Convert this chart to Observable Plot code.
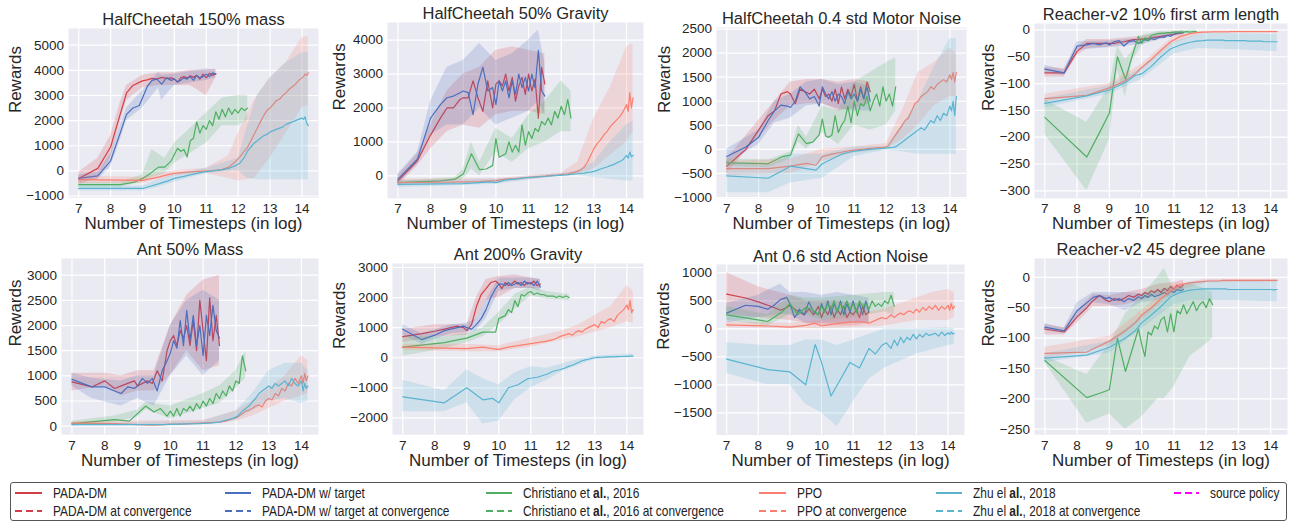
<!DOCTYPE html>
<html><head><meta charset="utf-8">
<script src="https://cdn.jsdelivr.net/npm/d3@7"></script>
<script src="https://cdn.jsdelivr.net/npm/@observablehq/plot@0.6"></script>
<style>
body{margin:0;background:#fff;width:1291px;height:522px;position:relative;overflow:hidden;font-family:"Liberation Sans",Arial,sans-serif;}
.panel{position:absolute;}
.panel svg{overflow:visible;}
#legend{position:absolute;left:10px;top:482px;width:1275px;height:37px;border:1px solid #555;border-radius:3px;background:#fff;}
.li{position:absolute;display:flex;align-items:center;font-family:"Liberation Sans",Arial,sans-serif;font-size:14.5px;color:#222;white-space:nowrap;height:16px;}
.li span{display:inline-block;transform:scaleX(0.82);transform-origin:left center;}
</style></head><body>
<div id="root"></div>
<div id="legend"></div>
<script>
// ---------- x grids (log timesteps) ----------
const gP = [7,7.6,8,8.3,8.5,8.7,8.9,9,9.15,9.3,9.45,9.6,9.75,9.9,10,10.1,10.2,10.3,10.4,10.5,10.6,10.7,10.8,10.9,11,11.1,11.2,11.3];
const gP5 = [7,7.6,8,8.3,8.5,8.7,8.9,9,9.15,9.3,9.45,9.6,9.75,9.9,10,10.1,10.2,10.3,10.4,10.5,10.6,10.7,10.8,10.9,11,11.1,11.2,11.3,11.4,11.5];
const gC = [7,8.3,8.75,9,9.25,9.5,9.7,9.9,10,10.1,10.2,10.3,10.4,10.5,10.6,10.7,10.8,10.9,11,11.1,11.2,11.3,11.4,11.5,11.6,11.7,11.8,11.9,12,12.1,12.2,12.3];
const gL = [7,8.3,9,9.5,9.8,10,10.3,10.6,10.9,11.2,11.5,11.7,11.9,12.05,12.2,12.3,12.4,12.5,12.6,12.7,12.8,12.9,13,13.1,13.2,13.3,13.4,13.5,13.6,13.7,13.8,13.9,14,14.05,14.1,14.15,14.2];
const xTicks = [7,8,9,10,11,12,13,14];

// ---------- Panel 1: HalfCheetah 150% mass ----------
const p1_pada = [-300,100,950,2250,3100,3400,3520,3580,3620,3680,3650,3720,3680,3700,3650,3520,3700,3750,3700,3780,3720,3800,3650,3850,3700,3880,3800,3870];
const p1_pada_band = [[7,-550,-50],[7.6,-300,500],[8,500,1400],[8.3,1900,2700],[8.5,2800,3400],[9,3300,3800],[9.5,3400,3900],[10,3400,3900],[10.5,3400,4000],[11,3000,4000],[11.3,3700,4050]];
const p1_tgt = [-300,-200,400,1500,2250,2500,2600,2900,3350,3600,3650,3450,3700,3600,3650,3550,3600,3700,3650,3750,3600,3800,3700,3750,3850,3750,3900,3850];
const p1_tgt_band = [[7,-450,-150],[7.6,-350,-50],[8,150,700],[8.3,1200,1800],[8.5,2000,2500],[9,2500,3200],[9.5,3300,3900],[9.6,2800,3800],[10,3400,3850],[10.5,3500,3950],[11,3600,4050],[11.3,3700,4000]];
const p1_chr = [-550,-550,-450,-300,-100,150,150,400,650,900,780,850,550,1200,1300,1950,1500,1800,1650,2000,1800,2350,2050,2450,2150,2500,2250,2450,2300,2500,2400,2500];
const p1_chr_band = [[7,-650,-450],[8.3,-650,-450],[9,-450,-150],[9.3,-250,850],[9.7,-100,500],[10,300,1100],[10.5,700,1700],[11,1100,2300],[11.5,1800,2900],[12,1800,3000],[12.3,2000,3000]];
const p1_ppo = [-350,-370,-380,-250,-150,-100,-60,-30,-10,10,60,150,350,550,800,950,1200,1450,1700,1950,2200,2400,2500,2650,2800,2850,3000,3100,3250,3350,3450,3600,3700,3750,3850,3800,3900];
const p1_ppo_band = [[7,-500,-200],[9,-500,-250],[10,-200,0],[11,-100,100],[11.7,-300,600],[12,-400,1500],[12.5,-300,2800],[13,500,3700],[13.5,1500,4300],[14,2500,5300],[14.2,2600,5350]];
const p1_zhu = [-700,-700,-700,-520,-400,-300,-220,-130,-50,0,40,100,200,300,550,800,950,1100,1200,1300,1400,1450,1550,1600,1650,1700,1750,1850,1900,1950,2000,2050,2100,2050,2150,1900,1800];
const p1_zhu_band = [[7,-800,-600],[9,-800,-600],[9.5,-650,-350],[10,-450,-150],[11,-100,100],[12,0,500],[12.3,-300,1800],[12.6,-350,3000],[13,-350,3700],[13.5,-350,4300],[14,-350,4700],[14.2,-350,4700]];

// ---------- Panel 2: HalfCheetah 50% Gravity ----------
const p2_pada = [-150,450,1200,1700,2000,2000,2250,2300,2300,2800,2300,1900,2800,2000,2700,2800,2650,3000,2500,2900,2200,2650,2900,2400,3000,2500,2850,1700,3200,2700];
const p2_pada_band = [[7,-300,0],[7.6,300,650],[8,800,1500],[8.5,1300,2500],[9,1500,3000],[9.5,1400,3200],[10,1800,3700],[10.5,1900,3800],[11,1900,3700],[11.5,1800,3600]];
const p2_tgt = [-100,500,1700,2100,2300,2350,2450,2500,2450,1800,2700,3200,2500,2600,2100,2800,2500,2800,2300,2800,2400,3000,2600,2900,2500,3000,2600,3700,2500,2350];
const p2_tgt_band = [[7,-250,50],[7.6,350,700],[8,1200,2200],[8.5,1500,3200],[9,1500,3400],[9.5,2000,3900],[10,1500,3400],[10.5,1700,3600],[11,1900,4000],[11.3,2200,4300],[11.5,1800,3300]];
const p2_chr = [-200,-150,-100,50,650,180,200,300,1100,550,600,650,1000,700,900,700,1500,900,1300,1100,1400,1300,1600,1500,1700,1500,1900,1700,2050,1800,2250,1700];
const p2_chr_band = [[7,-250,-150],[8.75,-150,-50],[9,-100,200],[9.25,200,1000],[9.5,0,400],[10,700,1400],[10.5,400,1100],[11,800,1800],[11.5,1000,2200],[12,1300,2800],[12.3,1300,2500]];
const p2_ppo = [-200,-190,-180,-170,-150,-140,-100,-80,-50,-30,-10,10,20,40,60,80,100,130,180,250,400,600,800,950,1050,1200,1300,1450,1550,1650,1750,1900,2100,1900,2450,2000,2300];
const p2_ppo_band = [[7,-300,-100],[10,-200,-80],[12,-20,80],[12.5,50,400],[13,200,1700],[13.5,600,2600],[14,1000,3800],[14.2,1300,3900]];
const p2_zhu = [-250,-240,-230,-200,-180,-200,-120,-100,-60,-40,-20,0,10,20,30,40,50,60,70,80,100,110,130,160,200,230,260,300,330,380,420,480,600,520,700,560,600];
const p2_zhu_band = [[7,-350,-150],[10,-250,-100],[12,0,60],[12.5,0,150],[13,-50,400],[13.5,-100,1000],[14,-150,1500],[14.2,-150,1600]];

// ---------- Panel 3: HalfCheetah 0.4 std Motor Noise ----------
const p3_pada = [-350,0,400,700,800,1150,1200,1150,950,1250,1200,1150,1250,1050,1250,1100,1150,1000,1250,950,1300,1050,1250,1100,1350,1000,1300,1050,1400,1200];
const p3_pada_band = [[7,-500,-200],[8,250,600],[8.5,600,1000],[9,900,1400],[9.5,950,1450],[10,950,1450],[10.5,800,1400],[11,850,1450],[11.5,950,1400]];
const p3_tgt = [-150,50,250,600,800,920,900,870,1000,1300,1200,1050,1100,900,1300,1150,1050,1200,1000,1150,1100,950,1200,1050,1150,1000,1250,1050,1300,1000];
const p3_tgt_band = [[7,-300,0],[8,100,400],[8.5,550,1000],[9,650,1150],[9.5,900,1400],[10,950,1450],[10.5,850,1350],[11,800,1400],[11.5,800,1300]];
const p3_chr = [-280,-300,-150,-120,320,120,150,300,630,280,250,300,700,350,500,600,900,550,1000,700,950,900,1100,800,1000,1150,900,1300,1000,1150,900,1300];
const p3_chr_band = [[7,-350,-200],[8.3,-380,-220],[9,-200,-50],[9.25,150,500],[9.5,0,250],[10,350,900],[10.5,100,800],[11,500,1400],[11.5,400,1600],[12,500,1800],[12.3,800,1900]];
const p3_ppo = [-400,-400,-350,-290,-330,-150,-100,-60,-20,0,20,30,40,60,200,300,400,500,600,650,800,950,1000,1100,1150,1200,1300,1250,1350,1400,1450,1400,1550,1450,1600,1400,1600];
const p3_ppo_band = [[7,-550,-250],[9,-500,-200],[10,-250,0],[11,-80,50],[12,0,120],[12.5,200,800],[13,500,1600],[13.5,900,1800],[14,1100,2100],[14.2,1100,2000]];
const p3_zhu = [-550,-600,-350,-400,-430,-300,-200,-100,-50,-20,0,10,20,30,40,50,100,150,200,250,300,350,400,450,400,500,600,550,700,600,750,700,900,800,1000,700,1100];
const p3_zhu_band = [[7,-900,-250],[8.3,-900,-350],[9,-700,-100],[10,-600,-100],[11,-150,50],[12,-20,60],[12.5,-50,500],[13,-100,1000],[13.5,-100,1700],[14,-100,2300],[14.2,-100,2300]];

// ---------- Panel 4: Reacher-v2 10% first arm length ----------
const p4_pada = [-80,-80,-40,-25,-25,-25,-25,-25,-25,-23,-22,-20,-18,-18,-17,-17,-16,-15,-14,-13,-12,-11,-10,-9,-8,-7,-6,-5];
const p4_pada_band = [[7,-88,-70],[7.6,-88,-72],[8,-48,-32],[8.3,-35,-18],[9,-32,-18],[10,-22,-12],[11,-12,-4],[11.3,-9,-2]];
const p4_tgt = [-73,-80,-30,-28,-25,-28,-24,-28,-22,-20,-30,-22,-20,-25,-22,-18,-20,-16,-18,-15,-13,-14,-10,-12,-8,-6,-5,-5];
const p4_tgt_band = [[7,-80,-66],[7.6,-85,-75],[8,-38,-22],[9,-33,-20],[10,-27,-16],[11,-12,-4],[11.3,-8,-2]];
const p4_chr = [-163,-237,-185,-155,-50,-92,-50,-12,-25,-15,-20,-10,-8,-7,-6,-6,-5,-5,-4,-4,-4,-4,-3,-4,-3,-3];
const p4_chr_band = [[7,-195,-130],[8.3,-300,-172],[9,-205,-105],[9.25,-75,-30],[9.5,-125,-55],[9.7,-60,-40],[10,-30,-10],[10.5,-10,-3],[11.7,-6,0]];
const p4_ppo = [-128,-122,-108,-95,-82,-70,-55,-38,-22,-12,-7,-5,-4,-4,-3.5,-3.5,-3.5,-3.5,-3.5,-3.5,-3,-3,-3,-3,-3,-3,-3,-3,-3,-3,-3,-3,-3,-3,-3,-3,-3];
const p4_ppo_band = [[7,-135,-120],[9,-115,-100],[10,-76,-64],[11,-25,-12],[12,-5,-2],[14.2,-5,-2]];
const p4_zhu = [-137,-123,-112,-98,-85,-82,-68,-50,-35,-28,-23,-21,-20,-19,-19,-19,-19,-19,-20,-20,-20,-20,-20,-20,-20,-21,-21,-21,-21,-21,-22,-22,-22,-22,-22,-22,-22];
const p4_zhu_band = [[7,-145,-128],[9,-120,-104],[10,-92,-72],[11,-45,-22],[11.7,-35,-10],[12,-35,-6],[13,-37,-7],[14,-40,-8],[14.2,-40,-8]];

// ---------- Panel 5: Ant 50% Mass ----------
const p5_pada = [880,780,900,750,800,850,900,800,850,900,850,1100,900,1500,1700,1800,1600,1900,1750,2000,1600,2100,1500,2500,1900,1300,2550,1700,2200,1600];
const p5_pada_band = [[7,700,1050],[8,800,1050],[8.5,600,1000],[9,700,1100],[9.5,700,1100],[10,1000,2000],[10.5,1500,2600],[11,1100,2900],[11.5,1200,3000]];
const p5_tgt = [930,780,780,700,650,780,750,800,950,850,950,700,1100,1300,1450,1700,1550,2100,1600,2300,1700,2200,1600,2000,1400,2200,1800,2400,1900,1750];
const p5_tgt_band = [[7,800,1050],[7.6,550,950],[8.5,400,900],[9,550,1000],[9.5,400,1000],[10,1000,2000],[10.5,1400,2500],[11,1000,2700],[11.5,1300,2500]];
const p5_chr = [50,130,100,250,400,280,350,200,300,200,350,200,350,300,400,300,450,350,500,400,550,450,650,550,700,600,800,700,900,850,1400,1100];
const p5_chr_band = [[7,0,100],[8.3,80,200],[9,180,320],[9.25,330,470],[10,150,400],[11,350,650],[11.5,450,800],[12,750,1100],[12.3,950,1500]];
const p5_ppo = [60,50,30,20,30,40,40,50,60,70,80,100,150,180,250,300,320,350,400,420,380,500,550,520,650,600,750,700,850,800,950,850,1000,850,1050,900,1000];
const p5_ppo_band = [[7,30,90],[11,40,120],[12,100,300],[12.5,200,500],[13,350,750],[13.5,500,1000],[14,600,1400],[14.2,650,1300]];
const p5_zhu = [30,30,30,30,30,35,40,45,50,60,80,120,150,200,300,350,400,480,550,650,700,750,800,750,850,800,850,900,800,950,850,800,900,700,850,750,800];
const p5_zhu_band = [[7,10,50],[11,40,100],[12,120,300],[12.5,300,650],[13,500,1100],[13.5,550,1250],[14,450,1250],[14.2,500,1100]];

// ---------- Panel 6: Ant 200% Gravity ----------
const p6_pada = [700,800,880,950,1000,1050,1000,900,1100,1700,2100,2300,2500,2550,2450,2300,2500,2400,2450,2550,2450,2500,2400,2500,2450,2550,2400,2450];
const p6_pada_band = [[7,500,950],[8,700,1100],[9,750,1100],[9.3,1300,2000],[9.6,1900,2600],[10,2000,2700],[10.5,2300,2750],[11,2300,2650],[11.3,2300,2600]];
const p6_tgt = [950,600,750,900,950,1000,1050,1000,950,1100,1300,1600,2000,2300,2450,2450,2400,2500,2400,2450,2500,2400,2550,2450,2500,2400,2550,2350];
const p6_tgt_band = [[7,750,1100],[7.6,450,800],[8.5,800,1100],[9,850,1150],[9.3,900,1300],[9.6,1300,1900],[10,2200,2650],[10.5,2300,2650],[11,2300,2650],[11.3,2200,2600]];
const p6_chr = [350,500,600,650,750,850,850,850,1300,1350,1400,1600,1500,1900,1700,2100,2050,2150,2200,2100,2150,2100,2100,2050,2050,2050,2000,2050,2000,2050,2000];
const p6_chr_band = [[7,50,700],[8.3,300,700],[9,500,800],[9.5,700,1000],[10,1100,1500],[10.5,1600,2100],[11,2050,2350],[11.5,1950,2200],[12.2,1900,2100]];
const p6_ppo = [350,320,300,350,300,280,350,400,450,500,550,600,700,750,800,750,850,900,850,950,1000,1050,1100,1000,1200,1150,1250,1300,1200,1400,1500,1600,1750,1600,1900,1500,1600];
const p6_ppo_band = [[7,250,450],[9,200,450],[10,200,400],[11,350,650],[12,600,900],[12.5,700,1100],[13,850,1400],[13.5,1000,1700],[14,1200,2400],[14.2,1150,2200]];
const p6_zhu = [-1300,-1500,-1000,-1400,-1350,-1500,-1000,-900,-700,-650,-550,-450,-400,-350,-280,-250,-200,-150,-100,-70,-50,-20,0,10,15,20,25,30,30,35,40,40,45,45,50,50,50];
const p6_zhu_band = [[7,-1800,-750],[8.3,-1800,-1100],[9,-1500,-400],[9.5,-2200,-700],[10,-2100,-900],[10.5,-1400,-500],[11,-1000,-300],[11.5,-750,-350],[12,-450,-200],[12.5,-250,-50],[13,-50,50],[14.2,0,120]];

// ---------- Panel 7: Ant 0.6 std Action Noise ----------
const p7_pada = [620,550,480,420,380,330,380,420,350,300,250,350,250,400,200,350,250,400,200,350,250,400,200,300,250,350,200,400,250,300];
const p7_pada_band = [[7,250,1000],[8,200,750],[9,150,600],[9.5,100,500],[10,50,500],[10.5,50,500],[11,50,450],[11.5,100,450]];
const p7_tgt = [280,420,400,350,420,520,560,450,200,350,250,480,300,250,450,300,500,250,450,300,500,250,450,300,500,300,450,250,500,300];
const p7_tgt_band = [[7,100,450],[8,200,600],[8.7,250,800],[9,250,650],[9.5,100,650],[10,100,600],[10.5,100,650],[11,100,600],[11.5,100,550]];
const p7_chr = [250,130,300,450,250,380,350,250,400,300,450,350,500,300,450,350,500,350,450,300,500,400,450,350,500,400,450,400,500,450,600,400];
const p7_chr_band = [[7,150,400],[8.3,50,250],[9,250,600],[9.5,250,550],[10,150,550],[11,200,600],[12,300,650],[12.3,250,650]];
const p7_ppo = [70,50,30,60,100,50,80,100,120,130,100,150,200,180,250,200,250,280,250,300,320,280,350,300,380,330,400,350,420,330,400,350,420,330,450,350,400];
const p7_ppo_band = [[7,20,120],[9,0,100],[10,0,150],[11,20,250],[12,50,350],[12.5,100,450],[13,150,550],[13.5,150,650],[14,150,700],[14.2,200,650]];
const p7_zhu = [-540,-730,-770,-1000,-280,-600,-1200,-900,-600,-700,-350,-450,-300,-250,-350,-200,-300,-150,-250,-150,-200,-100,-180,-100,-150,-80,-120,-100,-80,-130,-60,-120,-70,-100,-60,-90,-80];
const p7_zhu_band = [[7,-800,-250],[8.3,-1000,-300],[9,-1000,-300],[9.5,-1350,-200],[10,-1500,-200],[10.5,-1750,-300],[11,-1300,-200],[11.5,-900,-100],[12,-700,0],[13,-450,0],[14,-300,20],[14.2,-280,0]];

// ---------- Panel 8: Reacher-v2 45 degree plane ----------
const p8_pada = [-85,-90,-65,-50,-38,-30,-38,-40,-35,-38,-35,-30,-33,-28,-30,-25,-28,-22,-25,-20,-25,-18,-22,-15,-20,-13,-17,-12];
const p8_pada_band = [[7,-95,-78],[7.6,-95,-83],[8,-75,-55],[8.5,-48,-28],[9,-48,-30],[9.5,-45,-25],[10,-38,-20],[10.5,-30,-12],[11,-25,-8],[11.3,-20,-5]];
const p8_tgt = [-82,-88,-55,-42,-33,-30,-35,-33,-38,-35,-40,-35,-38,-32,-35,-30,-33,-28,-32,-30,-28,-25,-28,-22,-25,-20,-22,-20];
const p8_tgt_band = [[7,-88,-76],[7.6,-92,-84],[8,-68,-42],[8.5,-42,-25],[9,-45,-25],[9.5,-55,-25],[10,-42,-27],[10.5,-38,-22],[11,-30,-15],[11.3,-26,-15]];
const p8_chr = [-137,-198,-190,-185,-100,-155,-120,-85,-110,-130,-90,-95,-80,-85,-70,-65,-90,-60,-90,-55,-60,-45,-60,-50,-40,-55,-45,-40,-50,-35,-45];
const p8_chr_band = [[7,-140,-130],[8.3,-240,-160],[9,-225,-110],[9.5,-250,-60],[10,-230,-30],[10.5,-200,0],[10.7,-200,15],[11,-180,-20],[11.5,-130,-10],[12,-110,-20],[12.2,-100,-25]];
const p8_ppo = [-125,-123,-105,-88,-75,-62,-50,-35,-22,-12,-9,-8,-7,-6,-6,-6,-6,-5,-5,-5,-5,-5,-5,-5,-5,-5,-5,-5,-5,-5,-5,-5,-5,-5,-5,-5,-5];
const p8_ppo_band = [[7,-135,-115],[9,-113,-97],[10,-70,-54],[11,-25,-12],[12,-9,-3],[14.2,-8,-3]];
const p8_zhu = [-133,-128,-115,-100,-88,-75,-62,-48,-32,-25,-21,-20,-19,-19,-19,-19,-19,-19,-19,-20,-20,-20,-20,-20,-20,-20,-20,-20,-20,-20,-20,-20,-20,-20,-21,-20,-20];
const p8_zhu_band = [[7,-140,-126],[9,-125,-105],[10,-85,-65],[11,-45,-20],[11.5,-38,-8],[12,-38,-6],[13,-38,-6],[14,-40,-6],[14.2,-40,-6]];

// ---------- titles / ticks ----------
const titles = ["HalfCheetah 150% mass","HalfCheetah 50% Gravity","HalfCheetah 0.4 std Motor Noise","Reacher-v2 10% first arm length","Ant 50% Mass","Ant 200% Gravity","Ant 0.6 std Action Noise","Reacher-v2 45 degree plane"];
const yTicks = [
  [-1000,0,1000,2000,3000,4000,5000],
  [0,1000,2000,3000,4000],
  [-1000,-500,0,500,1000,1500,2000,2500],
  [-300,-250,-200,-150,-100,-50,0],
  [0,500,1000,1500,2000,2500,3000],
  [-2000,-1000,0,1000,2000,3000],
  [-1500,-1000,-500,0,500,1000],
  [-250,-200,-150,-100,-50,0]
];
const yDomains = [[-1067,5665],[-663,4519],[-1017,2533],[-314,12],[-169,3332],[-2559,3133],[-1896,1148],[-259,31]];
const xLabel = "Number of Timesteps (in log)";
const yLabel = "Rewards";
const methods = ["PADA-DM","PADA-DM w/ target","Christiano et al., 2016","PPO","Zhu el al., 2018"];
const methodColors = ["#d33f49","#4a6fbf","#4fae62","#fa7f6f","#5ab4d0"];

// layout: frame [left,right,top,bottom] and y-label offset
const layout = [
  {f:[68,318,28.3,197.5], lab:53},
  {f:[387,643,21.7,197.5], lab:48},
  {f:[716,966,26.7,197.5], lab:52},
  {f:[1034,1287,22.7,197.5], lab:46},
  {f:[61,318,258.3,434.5], lab:46},
  {f:[392,643,263.3,434.5], lab:53},
  {f:[716,964,264,434.5], lab:53},
  {f:[1034,1287,258.3,434.5], lab:46}
];
const panelSeries = [
  [[gP,p1_pada,p1_pada_band],[gP,p1_tgt,p1_tgt_band],[gC,p1_chr,p1_chr_band],[gL,p1_ppo,p1_ppo_band],[gL,p1_zhu,p1_zhu_band]],
  [[gP5,p2_pada,p2_pada_band],[gP5,p2_tgt,p2_tgt_band],[gC,p2_chr,p2_chr_band],[gL,p2_ppo,p2_ppo_band],[gL,p2_zhu,p2_zhu_band]],
  [[gP5,p3_pada,p3_pada_band],[gP5,p3_tgt,p3_tgt_band],[gC,p3_chr,p3_chr_band],[gL,p3_ppo,p3_ppo_band],[gL,p3_zhu,p3_zhu_band]],
  [[gP,p4_pada,p4_pada_band],[gP,p4_tgt,p4_tgt_band],[gC,p4_chr,p4_chr_band],[gL,p4_ppo,p4_ppo_band],[gL,p4_zhu,p4_zhu_band]],
  [[gP5,p5_pada,p5_pada_band],[gP5,p5_tgt,p5_tgt_band],[gC,p5_chr,p5_chr_band],[gL,p5_ppo,p5_ppo_band],[gL,p5_zhu,p5_zhu_band]],
  [[gP,p6_pada,p6_pada_band],[gP,p6_tgt,p6_tgt_band],[gC,p6_chr,p6_chr_band],[gL,p6_ppo,p6_ppo_band],[gL,p6_zhu,p6_zhu_band]],
  [[gP5,p7_pada,p7_pada_band],[gP5,p7_tgt,p7_tgt_band],[gC,p7_chr,p7_chr_band],[gL,p7_ppo,p7_ppo_band],[gL,p7_zhu,p7_zhu_band]],
  [[gP,p8_pada,p8_pada_band],[gP,p8_tgt,p8_tgt_band],[gC,p8_chr,p8_chr_band],[gL,p8_ppo,p8_ppo_band],[gL,p8_zhu,p8_zhu_band]]
];

const fmt = d => d < 0 ? "\u2212" + (-d) : String(d);
const mL = 64, mR = 4, mT = 24, mB = 40;
const root = document.getElementById("root");

panelSeries.forEach((series, p) => {
  const [L, R, T, B] = layout[p].f;
  const marks = [
    Plot.frame({fill: "#EAEAF2", stroke: "none"}),
    Plot.gridX(xTicks, {stroke: "#fff", strokeOpacity: 1, strokeWidth: 1.2}),
    Plot.gridY(yTicks[p], {stroke: "#fff", strokeOpacity: 1, strokeWidth: 1.2}),
    Plot.axisX({ticks: xTicks, tickSize: 0, tickPadding: 5.5, label: null, fontSize: 13.5, fill: "#262626"}),
    Plot.axisY({ticks: yTicks[p], tickSize: 0, tickPadding: 4.5, label: null, tickFormat: fmt, fontSize: 13.5, fill: "#262626"})
  ];
  series.forEach(([xs, ys, bd], m) => {
    const c = methodColors[m];
    const bandRows = bd.map(([x, lo, hi]) => ({x, lo, hi}));
    const lineRows = ys.map((y, i) => ({x: xs[i], y}));
    marks.push(Plot.areaY(bandRows, {x: "x", y1: "lo", y2: "hi", fill: c, fillOpacity: 0.2, curve: "linear"}));
    marks.push(Plot.line(lineRows, {x: "x", y: "y", stroke: c, strokeWidth: 1.2}));
  });
  marks.push(Plot.text([titles[p]], {text: d => d, frameAnchor: "top", dy: -3, lineAnchor: "bottom", fontSize: 16.5, fill: "#262626"}));
  marks.push(Plot.text([xLabel], {text: d => d, frameAnchor: "bottom", dy: 31, lineAnchor: "bottom", fontSize: 17, fill: "#262626"}));
  marks.push(Plot.text([yLabel], {text: d => d, frameAnchor: "left", dx: -layout[p].lab, rotate: -90, lineAnchor: "middle", fontSize: 17, fill: "#262626"}));

  const chart = Plot.plot({
    width: (R - L) + mL + mR,
    height: (B - T) + mT + mB,
    marginLeft: mL, marginRight: mR, marginTop: mT, marginBottom: mB,
    x: {domain: [6.68, 14.52]},
    y: {domain: yDomains[p]},
    style: {fontFamily: "'Liberation Sans', Arial, sans-serif", fontSize: "13.5px", color: "#262626", background: "transparent", overflow: "visible"},
    marks
  });
  const div = document.createElement("div");
  div.className = "panel";
  div.style.left = (L - mL) + "px";
  div.style.top = (T - mT) + "px";
  div.appendChild(chart);
  root.appendChild(div);
});

// ---------- legend ----------
const legendLabels = [
  ["PADA<b>-</b>DM", "PADA<b>-</b>DM at convergence"],
  ["PADA<b>-</b>DM w/ target", "PADA<b>-</b>DM w/ target at convergence"],
  ["Christiano et <b>al.</b>, 2016", "Christiano et <b>al.</b>, 2016 at convergence"],
  ["PPO", "PPO at convergence"],
  ["Zhu el <b>al.</b>, 2018", "Zhu el <b>al.</b>, 2018 at convergence"]
];
const sourceLabel = "source policy";
const legendCols = [[4, 42], [214, 251], [475, 512], [748, 786], [925, 962], [1163, 1199]];
const legendRows = [10, 28];
const leg = document.getElementById("legend");
function addItem(col, row, color, dashed, html) {
  const [lx, tx] = legendCols[col];
  const d = document.createElement("div");
  d.className = "li";
  d.style.left = lx + "px";
  d.style.top = (legendRows[row] - 8) + "px";
  const w = tx - lx;
  d.innerHTML = `<svg width="${w}" height="16" style="flex:none"><line x1="0" x2="${w - 11}" y1="8" y2="8" stroke="${color}" stroke-width="2" ${dashed ? 'stroke-dasharray="7,4"' : ''}/></svg><span>${html}</span>`;
  leg.appendChild(d);
}
legendLabels.forEach((pair, i) => {
  addItem(i, 0, methodColors[i], false, pair[0]);
  addItem(i, 1, methodColors[i], true, pair[1]);
});
addItem(5, 0, "#ff00ff", true, sourceLabel);
</script>
</body></html>
